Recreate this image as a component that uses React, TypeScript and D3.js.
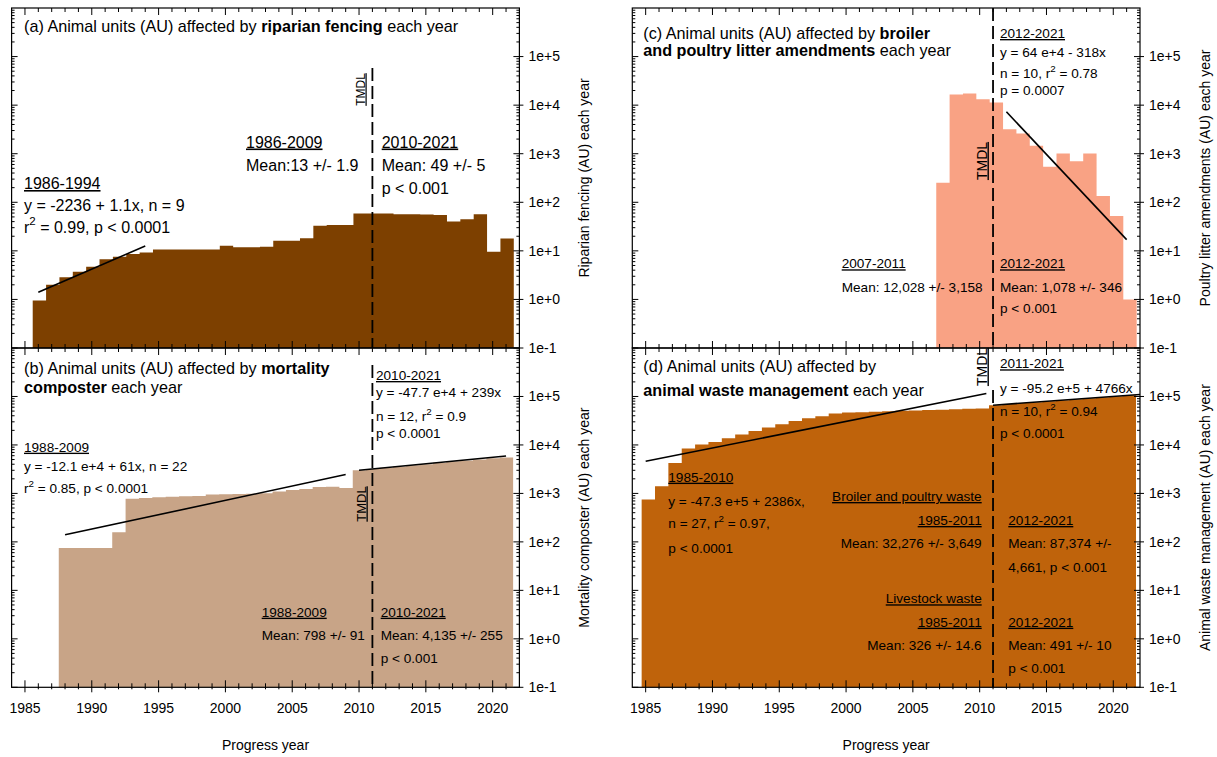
import React from 'react';
import * as d3 from 'd3';

const FONT = "'Liberation Sans', Arial, Helvetica, sans-serif";
const NOTE = 13.6;

// Shared axes
const yearExtent: [number, number] = [1984, 2022];
const auExtent: [number, number] = [0.1, 1e6];
const decadeValues = [0.1, 1, 10, 100, 1000, 10000, 100000];
const decadeLabels = ['1e-1', '1e+0', '1e+1', '1e+2', '1e+3', '1e+4', '1e+5'];
const yearLabels = [1985, 1990, 1995, 2000, 2005, 2010, 2015, 2020];
const tmdlYear = 2011;

// (a) Riparian fencing, animal units per year, 1986–2021
const fencingFirstYear = 1986;
const fencingAU = [
  0.95, 2.0, 2.85, 3.7, 4.7, 6.7, 7.6, 8.6, 9.3,
  10.7, 10.7, 10.7, 10.7, 10.7, 12.8, 11.8, 11.8, 12.1,
  16.2, 16.2, 18.1, 33, 34, 34,
  59, 59, 59, 57, 57, 56, 55, 40, 44.6, 56.5, 9.6, 18,
];
const fencingFit = [{ year: 1986, au: 1.4 }, { year: 1994, au: 12.6 }];

// (b) Mortality composter, 1988–2021
const mortalityFirstYear = 1988;
const mortalityAU = [
  75, 75, 75, 75, 158,
  780, 800, 830, 850, 870, 880, 950, 960, 970, 990, 1010,
  1100, 1180, 1230, 1350, 1380, 1290,
  3000, 3200, 3400, 3600, 3800, 4000, 4300, 4600, 4800, 5000, 5300, 5500,
];
const mortalityFitEarly = [{ year: 1988, au: 140 }, { year: 2009, au: 2450 }];
const mortalityFitLate = [{ year: 2010, au: 3000 }, { year: 2021, au: 5900 }];

// (c) Broiler and poultry litter amendments, 2007–2021
const litterFirstYear = 2007;
const litterAU = [251, 16600, 17400, 13300, 11400, 3200, 2620, 1455, 537, 1014, 703, 1014, 134, 52, 1];
const litterFit = [{ year: 2012, au: 7300 }, { year: 2021, au: 17 }];

// (d) Animal waste management, 1985–2021
const wasteFirstYear = 1985;
const wasteAU = [
  748, 1407, 4260, 8440, 10200, 11500, 13700, 16400, 19400, 22800,
  26700, 31300, 35500, 39000, 44400,
  46500, 47500, 48500, 49500, 50500, 51500, 52500, 53500, 54500, 55500, 56500,
  66000, 70000, 73000, 76000, 80000, 84000, 88000, 92000, 96000, 101000, 106000,
];
const wasteFitEarly = [{ year: 1985, au: 4600 }, { year: 2010.5, au: 115000 }];
const wasteFitLate = [{ year: 2011, au: 66000 }, { year: 2022, au: 110000 }];

type FitPoint = { year: number; au: number };
type Box = { x0: number; x1: number; y0: number; y1: number };
type Tmdl = { top: number; bx: number; cy: number; size: number };

const LEFT = { x0: 11.6, x1: 519.4 };
const RIGHT = { x0: 632.3, x1: 1140 };
const TOP = { y0: 8, y1: 348 };
const BOTTOM = { y0: 348, y1: 687.3 };

const isDecade = (t: number) => Math.abs(Math.log10(t) - Math.round(Math.log10(t))) < 1e-9;

function Panel(props: {
  box: Box;
  color: string;
  firstYear: number;
  values: number[];
  shift: number;
  fits: FitPoint[][];
  axisTitle: string;
  showYears: boolean;
  tmdl: Tmdl;
  children?: React.ReactNode;
}) {
  const { box, color, firstYear, values, shift, fits, axisTitle, showYears, tmdl } = props;
  const x = d3.scaleLinear().domain(yearExtent).range([box.x0, box.x1]);
  const y = d3.scaleLog().domain(auExtent).range([box.y1, box.y0]);

  const steps = values.flatMap((v, i) => {
    const yr = firstYear + i;
    return [{ t: yr - 0.5 + shift, v }, { t: yr + 0.5 + shift, v }];
  });
  const area = d3
    .area<{ t: number; v: number }>()
    .x((d) => x(d.t))
    .y0(box.y1)
    .y1((d) => y(d.v));
  const fitLine = d3
    .line<FitPoint>()
    .x((d) => x(d.year))
    .y((d) => y(d.au));

  const minorAU = y.ticks().filter((t) => !isDecade(t));
  const yearTicks = d3.range(1985, 2022);
  const tx = x(tmdlYear);

  return (
    <g>
      <path d={area(steps) || ''} fill={color} />
      {fits.map((f, i) => (
        <path key={i} d={fitLine(f) || ''} fill="none" stroke="#000" strokeWidth={1.6} />
      ))}
      <g stroke="#000" strokeWidth={1}>
        {minorAU.map((t) => (
          <g key={'m' + t}>
            <line x1={box.x0} x2={box.x0 + 3} y1={y(t)} y2={y(t)} />
            <line x1={box.x1 - 3} x2={box.x1} y1={y(t)} y2={y(t)} />
          </g>
        ))}
        {decadeValues.map((t) => (
          <g key={'d' + t}>
            <line x1={box.x0} x2={box.x0 + 6} y1={y(t)} y2={y(t)} />
            <line x1={box.x1 - 6} x2={box.x1 + 4} y1={y(t)} y2={y(t)} />
          </g>
        ))}
        {yearTicks.map((yr) => {
          const major = yr % 5 === 0;
          const len = major ? 7 : 4;
          return (
            <g key={'y' + yr}>
              <line x1={x(yr)} x2={x(yr)} y1={box.y0} y2={box.y0 + len} />
              <line
                x1={x(yr)}
                x2={x(yr)}
                y1={box.y1 - len}
                y2={showYears ? box.y1 + (major ? 5 : 2) : box.y1}
              />
            </g>
          );
        })}
      </g>
      <rect
        x={box.x0}
        y={box.y0}
        width={box.x1 - box.x0}
        height={box.y1 - box.y0}
        fill="none"
        stroke="#000"
        strokeWidth={1.2}
      />
      <line x1={tx} x2={tx} y1={tmdl.top} y2={box.y1} stroke="#000" strokeWidth={1.8} strokeDasharray="13 5" />
      <text
        transform={`translate(${tmdl.bx},${tmdl.cy}) rotate(-90)`}
        textAnchor="middle"
        fontSize={tmdl.size}
        style={{ textDecoration: 'underline' }}
      >
        TMDL
      </text>
      <g fontSize={14}>
        {decadeValues.map((t, i) => (
          <text key={'l' + t} x={box.x1 + 9} y={y(t)} dy="0.35em">
            {decadeLabels[i]}
          </text>
        ))}
      </g>
      <text
        transform={`translate(${box.x1 + 70},${(box.y0 + box.y1) / 2}) rotate(-90)`}
        textAnchor="middle"
        fontSize={14}
      >
        {axisTitle}
      </text>
      {showYears && (
        <g fontSize={14} textAnchor="middle">
          {yearLabels.map((yr) => (
            <text key={'x' + yr} x={x(yr)} y={box.y1 + 26}>
              {yr}
            </text>
          ))}
          <text x={(box.x0 + box.x1) / 2} y={box.y1 + 63}>
            Progress year
          </text>
        </g>
      )}
      {props.children}
    </g>
  );
}

function Note(props: { x: number; y: number; size: number; u?: boolean; end?: boolean; children: React.ReactNode }) {
  return (
    <text
      x={props.x}
      y={props.y}
      fontSize={props.size}
      textAnchor={props.end ? 'end' : 'start'}
      style={props.u ? { textDecoration: 'underline' } : undefined}
    >
      {props.children}
    </text>
  );
}

function RSq(props: { x: number; y: number; size: number; pre: string; post: string }) {
  const s = props.size;
  return (
    <text x={props.x} y={props.y} fontSize={s}>
      {props.pre + 'r'}
      <tspan dy={-0.45 * s} fontSize={0.72 * s}>
        2
      </tspan>
      <tspan dy={0.45 * s}>{props.post}</tspan>
    </text>
  );
}

function Title(props: { x: number; y: number; pre: string; bold: string; post: string }) {
  return (
    <text x={props.x} y={props.y} fontSize={16.2}>
      {props.pre}
      <tspan fontWeight="bold">{props.bold}</tspan>
      {props.post}
    </text>
  );
}

export default function App() {
  return (
    <svg
      width={1217}
      height={757}
      style={{ position: 'absolute', left: 0, top: 0 }}
      fontFamily={FONT}
      fill="#000"
    >
      <rect width={1217} height={757} fill="#fff" />

      {/* (a) riparian fencing */}
      <Panel
        box={{ ...LEFT, ...TOP }}
        color="#7D4000"
        firstYear={fencingFirstYear}
        values={fencingAU}
        shift={0.08}
        fits={[fencingFit]}
        axisTitle="Riparian fencing (AU) each year"
        showYears={false}
        tmdl={{ top: 68, bx: 364.5, cy: 89.5, size: 12 }}
      >
        <Title x={24} y={32} pre="(a) Animal units (AU) affected by " bold="riparian fencing" post=" each year" />
        <Note x={24} y={189} size={16} u>1986-1994</Note>
        <Note x={24} y={211} size={16}>y = -2236 + 1.1x, n = 9</Note>
        <RSq x={24} y={232.5} size={16} pre="" post=" = 0.99, p < 0.0001" />
        <Note x={246} y={147.5} size={16} u>1986-2009</Note>
        <Note x={246} y={170.5} size={16}>Mean:13 +/- 1.9</Note>
        <Note x={381.7} y={147.5} size={16} u>2010-2021</Note>
        <Note x={381.7} y={170.5} size={16}>Mean: 49 +/- 5</Note>
        <Note x={381.7} y={194} size={16}>p {'<'} 0.001</Note>
      </Panel>

      {/* (b) mortality composter */}
      <Panel
        box={{ ...LEFT, ...BOTTOM }}
        color="#C8A487"
        firstYear={mortalityFirstYear}
        values={mortalityAU}
        shift={0.03}
        fits={[mortalityFitEarly, mortalityFitLate]}
        axisTitle="Mortality composter (AU) each year"
        showYears={true}
        tmdl={{ top: 365, bx: 365.5, cy: 504, size: 13 }}
      >
        <Title x={24} y={374} pre="(b) Animal units (AU) affected by " bold="mortality" post="" />
        <Title x={24} y={392.5} pre="" bold="composter" post=" each year" />
        <Note x={24} y={451.7} size={NOTE} u>1988-2009</Note>
        <Note x={24} y={471} size={NOTE}>y = -12.1 e+4 + 61x, n = 22</Note>
        <RSq x={24} y={493.3} size={NOTE} pre="" post=" = 0.85, p < 0.0001" />
        <Note x={376} y={380} size={NOTE} u>2010-2021</Note>
        <Note x={376} y={396.7} size={NOTE}>y = -47.7 e+4 + 239x</Note>
        <RSq x={376} y={421} size={NOTE} pre="n = 12, " post=" = 0.9" />
        <Note x={376} y={437.7} size={NOTE}>p {'<'} 0.0001</Note>
        <Note x={261.7} y={616.7} size={NOTE} u>1988-2009</Note>
        <Note x={261.7} y={640} size={NOTE}>Mean: 798 +/- 91</Note>
        <Note x={380.7} y={616.7} size={NOTE} u>2010-2021</Note>
        <Note x={380.7} y={640} size={NOTE}>Mean: 4,135 +/- 255</Note>
        <Note x={380.7} y={663.3} size={NOTE}>p {'<'} 0.001</Note>
      </Panel>

      {/* (c) broiler and poultry litter amendments */}
      <Panel
        box={{ ...RIGHT, ...TOP }}
        color="#F9A284"
        firstYear={litterFirstYear}
        values={litterAU}
        shift={0.25}
        fits={[litterFit]}
        axisTitle="Poultry litter amendments (AU) each year"
        showYears={false}
        tmdl={{ top: 8, bx: 986.5, cy: 161, size: 14 }}
      >
        <Title x={643.3} y={38.5} pre="(c) Animal units (AU) affected by " bold="broiler" post="" />
        <Title x={643.3} y={56} pre="" bold="and poultry litter amendments" post=" each year" />
        <Note x={1000} y={38} size={NOTE} u>2012-2021</Note>
        <Note x={1000} y={56.7} size={NOTE}>y = 64 e+4 - 318x</Note>
        <RSq x={1000} y={78.3} size={NOTE} pre="n = 10, " post=" = 0.78" />
        <Note x={1000} y={95} size={NOTE}>p = 0.0007</Note>
        <Note x={841.7} y={268.3} size={NOTE} u>2007-2011</Note>
        <Note x={841.7} y={291.7} size={NOTE}>Mean: 12,028 +/- 3,158</Note>
        <Note x={1000} y={268.3} size={NOTE} u>2012-2021</Note>
        <Note x={1000} y={291.7} size={NOTE}>Mean: 1,078 +/- 346</Note>
        <Note x={1000} y={313.3} size={NOTE}>p {'<'} 0.001</Note>
      </Panel>

      {/* (d) animal waste management */}
      <Panel
        box={{ ...RIGHT, ...BOTTOM }}
        color="#BF630B"
        firstYear={wasteFirstYear}
        values={wasteAU}
        shift={0.2}
        fits={[wasteFitEarly, wasteFitLate]}
        axisTitle="Animal waste management (AU) each year"
        showYears={true}
        tmdl={{ top: 390, bx: 986.5, cy: 367, size: 14 }}
      >
        <Title x={643.3} y={372.4} pre="(d) Animal units (AU) affected by" bold="" post="" />
        <Title x={643.3} y={396.4} pre="" bold="animal waste management" post=" each year" />
        <Note x={1000} y={368.3} size={NOTE} u>2011-2021</Note>
        <Note x={1000} y={393.3} size={NOTE}>y = -95.2 e+5 + 4766x</Note>
        <RSq x={1000} y={415.7} size={NOTE} pre="n = 10, " post=" = 0.94" />
        <Note x={1000} y={438.3} size={NOTE}>p {'<'} 0.0001</Note>
        <Note x={668.3} y={481.7} size={NOTE} u>1985-2010</Note>
        <Note x={668.3} y={506} size={NOTE}>y = -47.3 e+5 + 2386x,</Note>
        <RSq x={668.3} y={528.3} size={NOTE} pre="n = 27, " post=" = 0.97," />
        <Note x={668.3} y={552.7} size={NOTE}>p {'<'} 0.0001</Note>
        <Note x={981.7} y={501} size={NOTE} u end>Broiler and poultry waste</Note>
        <Note x={981.7} y={525} size={NOTE} u end>1985-2011</Note>
        <Note x={981.7} y={547.7} size={NOTE} end>Mean: 32,276 +/- 3,649</Note>
        <Note x={981.7} y={603.3} size={NOTE} u end>Livestock waste</Note>
        <Note x={981.7} y={626.7} size={NOTE} u end>1985-2011</Note>
        <Note x={981.7} y={650} size={NOTE} end>Mean: 326 +/- 14.6</Note>
        <Note x={1008.3} y={525} size={NOTE} u>2012-2021</Note>
        <Note x={1008.3} y={547.7} size={NOTE}>Mean: 87,374 +/-</Note>
        <Note x={1008.3} y={571.7} size={NOTE}>4,661, p {'<'} 0.001</Note>
        <Note x={1008.3} y={626.7} size={NOTE} u>2012-2021</Note>
        <Note x={1008.3} y={650} size={NOTE}>Mean: 491 +/- 10</Note>
        <Note x={1008.3} y={673.3} size={NOTE}>p {'<'} 0.001</Note>
      </Panel>
    </svg>
  );
}
